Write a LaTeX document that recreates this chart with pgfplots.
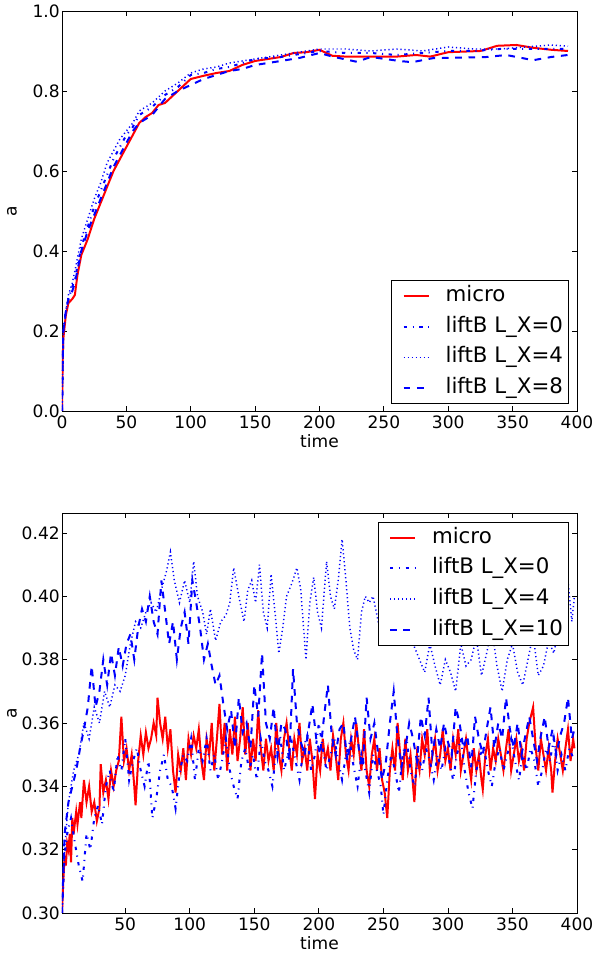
\documentclass[border=0pt]{standalone}
\usepackage{pgfplots}
\pgfplotsset{compat=1.18}
\usepackage{fontspec}
\setmainfont{DejaVu Sans}
\definecolor{mred}{RGB}{255,0,0}
\definecolor{mblue}{RGB}{0,0,255}
\pgfplotsset{
  myax/.style={
    scale only axis, width=386.25pt, height=300pt,
    xmin=0, xmax=400,
    tick align=inside, major tick length=3.5pt,
    axis line style={line width=0.7pt},
    every tick/.style={black, line width=0.6pt},
    /pgf/number format/assume math mode=true,
    tick label style={font=\fontsize{12.8}{15}\selectfont},
    yticklabel style={inner xsep=1.5pt},
    label style={font=\fontsize{12.8}{15}\selectfont},
    xlabel={time}, ylabel={a},
    xlabel style={at={(axis description cs:0.5,-0.075)}, anchor=center},
    ylabel style={at={(axis description cs:-0.097,0.5)}, anchor=center},
    legend cell align=left,
    legend image code/.code={\path (0pt,0pt) (35pt,0pt); \draw[#1] (4.25pt,0pt) -- (23.25pt,0pt);},
    legend style={draw=black, line width=0.7pt, fill=white,
      font=\fontsize{16}{18}\selectfont, row sep=7pt,
      inner xsep=4pt, inner ysep=3.5pt,
      nodes={inner xsep=0pt, inner ysep=0pt, text height=12pt, text depth=4pt}},
  },
  micro/.style={mred, line width=1.5pt},
  lx0/.style={mblue, line width=1.5pt, dash pattern=on 2.5pt off 4.2pt on 0.8pt off 4.2pt},
  lx4/.style={mblue, line width=1.1pt, dash pattern=on 0.9pt off 2.1pt},
  lx8/.style={mblue, line width=1.5pt, dash pattern=on 5pt off 5pt},
}
\begin{document}
\begin{tikzpicture}
\path[use as bounding box] (-46.5pt,-34.5pt) rectangle (414pt,684.75pt);
% ---------------- top ----------------
\begin{axis}[myax, at={(0pt,376.5pt)}, anchor=south west,
  ymin=0, ymax=1, xtick={0,50,...,400}, ytick={0,0.2,...,1.0},
  yticklabel style={/pgf/number format/.cd, fixed, fixed zerofill, precision=1},
  legend style={at={(axis description cs:0.984,0.0175)}, anchor=south east}]
\addplot[micro] coordinates {(0,0) (0.5,0.12) (1,0.18) (2,0.21) (3,0.24) (5,0.27) (8,0.28) (10,0.29) (12,0.34) (15,0.39) (20,0.43) (25,0.48) (30,0.52) (35,0.56) (40,0.6) (45,0.63) (50,0.66) (55,0.69) (60,0.72) (65,0.735) (70,0.745) (75,0.765) (80,0.77) (85,0.785) (90,0.8) (95,0.815) (100,0.83) (110,0.838) (120,0.845) (130,0.85) (140,0.865) (150,0.875) (160,0.88) (170,0.885) (180,0.895) (190,0.897) (200,0.903) (210,0.888) (220,0.886) (240,0.886) (260,0.886) (275,0.89) (286,0.886) (300,0.897) (325,0.9) (338,0.913) (353,0.915) (366,0.908) (380,0.903) (393,0.9)};
\addlegendentry{micro}
\addplot[lx0] coordinates {(0,0) (1,0.2) (3,0.25) (5,0.28) (8,0.31) (10,0.33) (15,0.41) (20,0.46) (25,0.51) (30,0.55) (35,0.59) (40,0.63) (45,0.66) (50,0.69) (55,0.71) (60,0.74) (70,0.76) (80,0.79) (90,0.81) (100,0.84) (110,0.845) (120,0.855) (130,0.86) (140,0.87) (150,0.88) (170,0.885) (190,0.895) (200,0.9) (220,0.895) (240,0.895) (260,0.89) (280,0.895) (300,0.9) (320,0.9) (340,0.905) (360,0.905) (380,0.905) (393,0.905)};
\addlegendentry{liftB L\_X=0}
\addplot[lx4] coordinates {(0,0) (1,0.19) (3,0.25) (5,0.29) (8,0.32) (10,0.35) (15,0.43) (20,0.48) (25,0.53) (30,0.57) (35,0.62) (40,0.65) (45,0.68) (50,0.7) (55,0.72) (60,0.75) (65,0.76) (70,0.77) (80,0.8) (90,0.82) (100,0.845) (110,0.855) (120,0.86) (130,0.87) (140,0.875) (150,0.88) (160,0.885) (170,0.89) (180,0.895) (190,0.9) (200,0.905) (220,0.905) (240,0.9) (260,0.905) (280,0.9) (300,0.91) (320,0.905) (340,0.905) (360,0.91) (380,0.915) (393,0.912)};
\addlegendentry{liftB L\_X=4}
\addplot[lx8] coordinates {(0,0) (1,0.2) (3,0.25) (5,0.28) (8,0.3) (10,0.32) (15,0.4) (20,0.45) (25,0.49) (30,0.53) (35,0.57) (40,0.61) (45,0.64) (50,0.67) (55,0.7) (60,0.72) (65,0.73) (70,0.74) (75,0.76) (80,0.78) (90,0.8) (100,0.815) (110,0.83) (120,0.84) (130,0.85) (140,0.855) (150,0.865) (160,0.87) (170,0.875) (185,0.883) (200,0.895) (210,0.886) (229,0.873) (240,0.885) (262,0.875) (272,0.872) (288,0.882) (304,0.883) (330,0.885) (345,0.89) (366,0.877) (380,0.885) (393,0.89)};
\addlegendentry{liftB L\_X=8}
\end{axis}
% ---------------- bottom ----------------
\begin{axis}[myax, at={(0pt,0pt)}, anchor=south west,
  xmin=1, ymin=0.30, ymax=0.4263, xtick={50,100,...,400}, ytick={0.30,0.32,...,0.42},
  yticklabel style={/pgf/number format/.cd, fixed, fixed zerofill, precision=2},
  legend style={at={(axis description cs:0.984,0.9775)}, anchor=north east}]
\addplot[micro] coordinates {(1,0.30) (2,0.31) (3,0.318) (4,0.315) (5,0.322) (6,0.32) (7,0.325) (8,0.316) (9,0.33) (10,0.325) (12,0.332) (13,0.328) (15,0.335) (16,0.33) (18,0.342) (20,0.335) (22,0.34) (24,0.332) (26,0.335) (28,0.329) (30,0.333) (31,0.347) (33,0.338) (35,0.342) (37,0.336) (39,0.345) (41,0.34) (43,0.345) (45,0.348) (47,0.362) (49,0.348) (51,0.352) (53,0.345) (55,0.35) (57,0.34) (58,0.334) (60,0.348) (62,0.356) (64,0.35) (66,0.357) (68,0.352) (70,0.355) (72,0.36) (74,0.356) (75,0.368) (77,0.36) (79,0.355) (81,0.362) (83,0.352) (85,0.358) (87,0.345) (89,0.338) (91,0.35) (93,0.345) (95,0.352) (97,0.342) (99,0.355) (101,0.35) (103,0.356) (105,0.352) (107,0.358) (109,0.348) (111,0.342) (113,0.355) (115,0.35) (117,0.36) (119,0.345) (121,0.355) (123,0.366) (125,0.35) (127,0.36) (129,0.345) (131,0.358) (133,0.35) (135,0.362) (137,0.348) (139,0.355) (141,0.365) (143,0.35) (145,0.36) (147,0.345) (149,0.355) (151,0.348) (153,0.364) (155,0.352) (157,0.345) (159,0.355) (161,0.348) (163,0.352) (165,0.345) (167,0.36) (169,0.35) (171,0.345) (173,0.355) (175,0.36) (177,0.352) (179,0.345) (181,0.355) (183,0.35) (185,0.36) (187,0.348) (189,0.352) (191,0.345) (193,0.355) (195,0.348) (197,0.336) (199,0.35) (201,0.345) (203,0.355) (205,0.348) (207,0.352) (209,0.345) (211,0.356) (213,0.35) (215,0.342) (217,0.355) (219,0.36) (221,0.35) (223,0.345) (225,0.355) (227,0.35) (229,0.36) (231,0.352) (233,0.345) (235,0.358) (237,0.345) (239,0.34) (241,0.35) (243,0.355) (245,0.345) (247,0.352) (249,0.342) (251,0.338) (253,0.33) (255,0.345) (257,0.352) (259,0.345) (261,0.36) (263,0.35) (265,0.342) (267,0.355) (269,0.345) (271,0.35) (273,0.34) (274,0.335) (276,0.35) (278,0.345) (280,0.355) (282,0.35) (284,0.358) (286,0.345) (288,0.35) (290,0.355) (292,0.345) (294,0.35) (296,0.358) (298,0.348) (300,0.352) (302,0.345) (304,0.355) (306,0.35) (308,0.358) (310,0.345) (312,0.35) (314,0.355) (316,0.348) (318,0.342) (320,0.352) (322,0.345) (324,0.35) (326,0.342) (327,0.339) (329,0.35) (331,0.355) (333,0.345) (335,0.352) (337,0.348) (339,0.355) (341,0.35) (343,0.345) (345,0.352) (347,0.358) (349,0.345) (351,0.35) (353,0.355) (355,0.348) (357,0.352) (359,0.345) (361,0.355) (363,0.36) (366,0.365) (368,0.352) (370,0.345) (372,0.355) (374,0.35) (376,0.345) (378,0.352) (380,0.345) (381,0.338) (383,0.348) (385,0.355) (387,0.35) (389,0.345) (391,0.352) (393,0.358) (395,0.348) (397,0.355) (398,0.352)};
\addlegendentry{micro}
\addplot[lx0] coordinates {(1,0.30) (3,0.318) (5,0.325) (8,0.33) (11,0.322) (14,0.315) (17,0.31) (20,0.325) (23,0.32) (26,0.33) (29,0.334) (32,0.328) (35,0.34) (38,0.345) (41,0.338) (44,0.35) (47,0.345) (50,0.355) (53,0.342) (56,0.348) (59,0.352) (62,0.345) (65,0.34) (68,0.348) (71,0.33) (74,0.336) (77,0.345) (80,0.35) (83,0.342) (86,0.34) (89,0.333) (92,0.344) (95,0.35) (98,0.348) (101,0.355) (104,0.342) (107,0.352) (110,0.348) (113,0.355) (116,0.345) (119,0.35) (122,0.342) (125,0.348) (128,0.355) (131,0.345) (134,0.34) (137,0.336) (140,0.348) (143,0.352) (146,0.345) (149,0.35) (152,0.342) (155,0.355) (158,0.348) (161,0.345) (164,0.34) (167,0.352) (170,0.356) (173,0.345) (176,0.35) (179,0.354) (182,0.348) (185,0.342) (188,0.352) (191,0.356) (194,0.345) (197,0.35) (200,0.36) (203,0.352) (206,0.345) (209,0.35) (212,0.355) (215,0.348) (218,0.342) (221,0.35) (224,0.354) (227,0.346) (230,0.34) (233,0.35) (236,0.345) (239,0.338) (242,0.35) (245,0.345) (248,0.34) (250,0.331) (253,0.342) (256,0.35) (259,0.345) (262,0.338) (265,0.35) (268,0.355) (271,0.345) (274,0.34) (277,0.35) (280,0.345) (283,0.352) (286,0.348) (289,0.342) (292,0.35) (295,0.345) (298,0.352) (301,0.348) (304,0.342) (307,0.35) (310,0.355) (313,0.345) (316,0.338) (319,0.333) (322,0.345) (325,0.35) (328,0.352) (331,0.345) (334,0.34) (337,0.348) (340,0.352) (343,0.345) (346,0.35) (349,0.355) (352,0.348) (355,0.342) (358,0.35) (361,0.345) (364,0.352) (367,0.348) (370,0.34) (373,0.345) (376,0.352) (379,0.348) (382,0.355) (385,0.345) (388,0.35) (391,0.345) (394,0.352) (398,0.348)};
\addlegendentry{liftB L\_X=0}
\addplot[lx4] coordinates {(1,0.30) (3,0.32) (6,0.335) (10,0.345) (14,0.35) (18,0.36) (22,0.355) (26,0.365) (30,0.36) (34,0.37) (38,0.365) (42,0.372) (46,0.37) (50,0.375) (54,0.385) (58,0.392) (62,0.39) (66,0.395) (70,0.398) (74,0.395) (78,0.402) (82,0.408) (85,0.414) (88,0.405) (92,0.398) (96,0.405) (100,0.398) (103,0.411) (106,0.40) (110,0.395) (113,0.388) (116,0.396) (120,0.386) (124,0.392) (128,0.394) (131,0.398) (134,0.409) (138,0.40) (142,0.392) (145,0.402) (148,0.405) (151,0.398) (154,0.41) (157,0.395) (160,0.39) (163,0.407) (166,0.395) (169,0.382) (172,0.39) (175,0.40) (179,0.404) (183,0.409) (186,0.402) (190,0.38) (193,0.398) (196,0.406) (199,0.395) (202,0.39) (206,0.411) (209,0.40) (212,0.396) (215,0.405) (218,0.418) (221,0.405) (224,0.39) (227,0.383) (230,0.38) (233,0.395) (236,0.40) (239,0.398) (242,0.40) (246,0.392) (250,0.386) (254,0.392) (258,0.398) (262,0.402) (266,0.395) (270,0.39) (274,0.384) (278,0.38) (282,0.376) (286,0.385) (290,0.378) (294,0.372) (298,0.38) (302,0.376) (306,0.37) (310,0.385) (314,0.378) (318,0.38) (322,0.387) (326,0.375) (330,0.382) (334,0.39) (338,0.378) (342,0.37) (346,0.38) (350,0.385) (354,0.376) (358,0.372) (362,0.38) (366,0.388) (370,0.375) (374,0.378) (378,0.386) (382,0.382) (386,0.39) (390,0.398) (393,0.405) (396,0.392) (398,0.40)};
\addlegendentry{liftB L\_X=4}
\addplot[lx8] coordinates {(1,0.30) (3,0.325) (6,0.335) (9,0.34) (12,0.345) (15,0.352) (18,0.358) (21,0.365) (24,0.378) (27,0.365) (30,0.37) (33,0.38) (36,0.372) (39,0.382) (42,0.375) (45,0.384) (48,0.378) (51,0.385) (54,0.388) (57,0.38) (60,0.39) (63,0.396) (66,0.392) (69,0.40) (72,0.392) (75,0.388) (78,0.405) (81,0.395) (84,0.385) (87,0.392) (90,0.38) (93,0.39) (96,0.395) (99,0.385) (102,0.405) (105,0.398) (108,0.39) (111,0.38) (114,0.385) (117,0.378) (120,0.372) (123,0.375) (126,0.366) (129,0.358) (132,0.364) (135,0.352) (138,0.368) (141,0.357) (144,0.36) (147,0.352) (150,0.372) (153,0.362) (156,0.382) (159,0.36) (162,0.355) (165,0.365) (168,0.35) (171,0.36) (174,0.358) (177,0.348) (180,0.377) (183,0.36) (186,0.354) (189,0.35) (192,0.358) (195,0.366) (198,0.355) (201,0.35) (204,0.362) (207,0.372) (210,0.356) (213,0.35) (216,0.358) (219,0.36) (222,0.348) (225,0.355) (228,0.362) (231,0.352) (234,0.346) (237,0.368) (240,0.355) (243,0.36) (246,0.35) (249,0.342) (252,0.348) (255,0.36) (258,0.37) (261,0.355) (264,0.346) (267,0.352) (270,0.36) (273,0.355) (276,0.348) (279,0.362) (282,0.356) (285,0.368) (288,0.35) (291,0.358) (294,0.352) (297,0.36) (300,0.354) (303,0.35) (306,0.365) (309,0.36) (312,0.352) (315,0.356) (318,0.346) (321,0.362) (324,0.355) (327,0.35) (330,0.358) (333,0.365) (336,0.352) (339,0.36) (342,0.355) (345,0.368) (348,0.358) (351,0.352) (354,0.36) (357,0.35) (360,0.356) (363,0.362) (366,0.355) (369,0.348) (372,0.356) (375,0.362) (378,0.352) (381,0.358) (384,0.35) (387,0.356) (390,0.36) (393,0.368) (396,0.355) (398,0.358)};
\addlegendentry{liftB L\_X=10}
\end{axis}
\end{tikzpicture}
\end{document}
